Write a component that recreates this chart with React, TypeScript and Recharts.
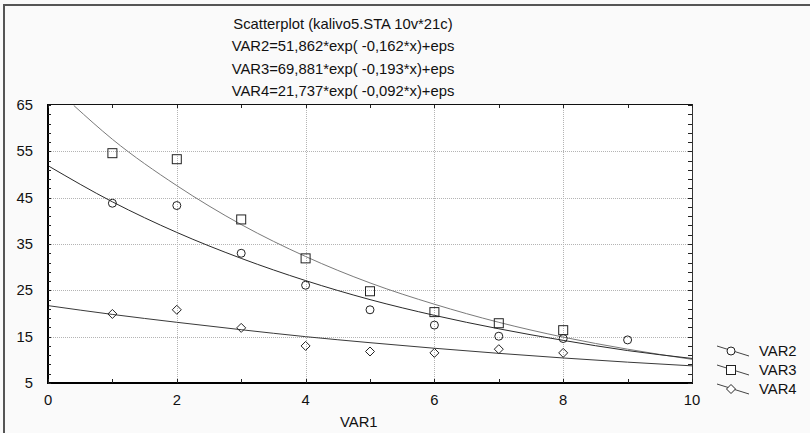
import React from "react";
import { ComposedChart, Line, Scatter, XAxis, YAxis } from "recharts";

// fitted curves (VAR3 enters the frame near x = 0.4)
const xFit = [0, 1, 2, 3, 4, 5, 6, 7, 8, 9, 10];
const var2Fit = [51.9, 44.1, 37.5, 31.9, 27.1, 23.0, 19.6, 16.7, 14.2, 12.0, 10.3];
const var4Fit = [21.7, 19.8, 18.1, 16.5, 15.0, 13.7, 12.5, 11.4, 10.4, 9.5, 8.7];
const x3Fit = [0.4, 1, 2, 3, 4, 5, 6, 7, 8, 9, 10];
const var3Fit = [64.9, 57.6, 47.6, 39.2, 32.3, 26.6, 22.0, 18.1, 14.9, 12.3, 10.1];

// observed points
const x2 = [1, 2, 3, 4, 5, 6, 7, 8, 9];
const var2Obs = [43.8, 43.3, 33.0, 26.1, 20.8, 17.5, 15.1, 14.6, 14.3];
const x3 = [1, 2, 3, 4, 5, 6, 7, 8];
const var3Obs = [54.6, 53.3, 40.3, 31.9, 24.8, 20.3, 17.9, 16.4];
const x4 = [1, 2, 3, 4, 5, 6, 7, 8];
const var4Obs = [19.9, 20.8, 16.9, 13.0, 11.8, 11.5, 12.3, 11.5];

const xTicks = [0, 1, 2, 3, 4, 5, 6, 7, 8, 9, 10];
const xLabels = [0, 2, 4, 6, 8, 10];
const yTicks = [5, 7, 9, 11, 13, 15, 17, 19, 21, 23, 25, 27, 29, 31, 33, 35, 37, 39, 41, 43, 45, 47, 49, 51, 53, 55, 57, 59, 61, 63, 65];
const yLabels = [5, 15, 25, 35, 45, 55, 65];
const gridX = [2, 4, 6, 8];
const gridY = [15, 25, 35, 45, 55];

const titleLines = [
  "Scatterplot (kalivo5.STA 10v*21c)",
  "VAR2=51,862*exp( -0,162*x)+eps",
  "VAR3=69,881*exp( -0,193*x)+eps",
  "VAR4=21,737*exp( -0,092*x)+eps",
];

const fit24 = xFit.map((x, i) => ({ x, var2: var2Fit[i], var4: var4Fit[i] }));
const fit3 = x3Fit.map((x, i) => ({ x, var3: var3Fit[i] }));
const obs2 = x2.map((x, i) => ({ x, y: var2Obs[i] }));
const obs3 = x3.map((x, i) => ({ x, y: var3Obs[i] }));
const obs4 = x4.map((x, i) => ({ x, y: var4Obs[i] }));

const FONT = "'Liberation Sans', Arial, sans-serif";
const FS = 14.8;
const INK = "#222";

// plot box (margins below put it here), used only for the frame / grid overlay
const PL = 48;
const PT = 105;
const PW = 644;
const PH = 278;
const px = (v: number) => PL + (v / 10) * PW;
const py = (v: number) => PT + ((65 - v) / 60) * PH;

const BottomTick = (props: any) => {
  const { x, y, payload } = props;
  const v = payload.value;
  if (!xLabels.includes(v)) return null;
  return (
    <text x={x} y={y + 22} textAnchor="middle" fontSize={FS} fontFamily={FONT} fill="#111">
      {v}
    </text>
  );
};

const LeftTick = (props: any) => {
  const { x, y, payload } = props;
  const v = payload.value;
  if (!yLabels.includes(v)) return null;
  return (
    <text x={x - 15} y={y + 5} textAnchor="end" fontSize={FS} fontFamily={FONT} fill="#111">
      {v}
    </text>
  );
};

const circle = (p: any) => <circle cx={p.cx} cy={p.cy} r={4} fill="none" stroke={INK} />;
const square = (p: any) => <rect x={p.cx - 4.5} y={p.cy - 4.5} width={9} height={9} fill="none" stroke={INK} />;
const diamond = (p: any) => (
  <path d={`M${p.cx},${p.cy - 4.5}L${p.cx + 4.5},${p.cy}L${p.cx},${p.cy + 4.5}L${p.cx - 4.5},${p.cy}Z`} fill="none" stroke={INK} />
);

const legendItems = [
  { name: "VAR2", mark: <circle cx={15} cy={8} r={4} fill="#fff" stroke={INK} /> },
  { name: "VAR3", mark: <rect x={10.5} y={3.5} width={9} height={9} fill="#fff" stroke={INK} /> },
  { name: "VAR4", mark: <path d="M15,3.5L19.5,8L15,12.5L10.5,8Z" fill="#fff" stroke={INK} /> },
];

const abs = (s: React.CSSProperties): React.CSSProperties => ({ position: "absolute", pointerEvents: "none", ...s });

export default function App() {
  return (
    <div style={{ position: "absolute", left: 0, top: 0, width: 810, height: 433, background: "#fafafa", overflow: "hidden", zIndex: 0 }}>
      <div style={abs({ zIndex: -1, left: PL, top: PT, width: PW, height: PH, background: "#fff" })} />
      {gridX.map((v) => (
        <div key={`gx${v}`} style={abs({ zIndex: -1, left: px(v), top: PT, height: PH, borderLeft: "1px dotted #b4b4b4" })} />
      ))}
      {gridY.map((v) => (
        <div key={`gy${v}`} style={abs({ zIndex: -1, left: PL, top: py(v), width: PW, borderTop: "1px dotted #b4b4b4" })} />
      ))}
      <div style={abs({ left: 3, top: 4, right: 0, bottom: 0, borderTop: "2px solid #555", borderLeft: "2px solid #555" })} />
      <div style={abs({ left: 143, top: 13, width: 400, textAlign: "center", fontFamily: FONT, fontSize: FS, lineHeight: "22.3px", color: "#111" })}>
        {titleLines.map((t) => (
          <div key={t}>{t}</div>
        ))}
      </div>
      <ComposedChart width={810} height={433} margin={{ top: 104, right: 117, bottom: 0, left: 0 }}>
        <XAxis
          xAxisId="b"
          type="number"
          dataKey="x"
          domain={[0, 10]}
          ticks={xTicks}
          interval={0}
          height={50}
          tickSize={0}
          tickMargin={0}
          axisLine={false}
          tickLine={false}
          tick={<BottomTick />}
        />
        <XAxis xAxisId="t" orientation="top" type="number" domain={[0, 10]} height={1} axisLine={false} tickLine={false} tick={false} />
        <YAxis
          yAxisId="l"
          type="number"
          domain={[5, 65]}
          ticks={yTicks}
          interval={0}
          width={48}
          tickSize={0}
          tickMargin={0}
          axisLine={false}
          tickLine={false}
          tick={<LeftTick />}
        />
        <YAxis yAxisId="r" orientation="right" type="number" domain={[5, 65]} width={1} axisLine={false} tickLine={false} tick={false} />
        <Line data={fit3} xAxisId="b" yAxisId="l" dataKey="var3" type="monotone" stroke="#7a7a7a" strokeWidth={1} dot={false} isAnimationActive={false} />
        <Line data={fit24} xAxisId="b" yAxisId="l" dataKey="var2" type="monotone" stroke="#2a2a2a" strokeWidth={1} dot={false} isAnimationActive={false} />
        <Line data={fit24} xAxisId="b" yAxisId="l" dataKey="var4" type="monotone" stroke="#3a3a3a" strokeWidth={1} dot={false} isAnimationActive={false} />
        <Scatter data={obs2} xAxisId="b" yAxisId="l" dataKey="y" shape={circle} isAnimationActive={false} />
        <Scatter data={obs3} xAxisId="b" yAxisId="l" dataKey="y" shape={square} isAnimationActive={false} />
        <Scatter data={obs4} xAxisId="b" yAxisId="l" dataKey="y" shape={diamond} isAnimationActive={false} />
      </ComposedChart>
      {/* plot frame and inward tick marks */}
      <div style={abs({ left: PL - 1, top: PT - 1, width: PW + 2, height: PH + 2, boxSizing: "border-box", borderTop: "1px solid #111", borderRight: "1px solid #333", borderLeft: "2px solid #000", borderBottom: "2px solid #000" })} />
      {xTicks.map((v) => (
        <React.Fragment key={`xt${v}`}>
          <div style={abs({ left: px(v), top: PT, height: 3, borderLeft: `1px solid ${INK}` })} />
          <div style={abs({ left: px(v), top: PT + PH - 4, height: 4, borderLeft: `1px solid ${INK}` })} />
        </React.Fragment>
      ))}
      {yTicks.map((v) => (
        <React.Fragment key={`yt${v}`}>
          <div style={abs({ left: PL, top: py(v), width: 3, borderTop: `1px solid ${INK}` })} />
          <div style={abs({ left: PL + PW - 4, top: py(v), width: 4, borderTop: `1px solid ${INK}` })} />
        </React.Fragment>
      ))}
      <div style={abs({ left: 340, top: 414, fontFamily: FONT, fontSize: FS, color: "#111" })}>VAR1</div>
      <div style={abs({ left: 716, top: 341, fontFamily: FONT, fontSize: FS, color: "#111" })}>
        {legendItems.map((it) => (
          <div key={it.name} style={{ display: "flex", alignItems: "center", height: 19 }}>
            <svg width={34} height={16} style={{ marginRight: 9 }}>
              <line x1={1} y1={3} x2={33} y2={13} stroke="#444" />
              {it.mark}
            </svg>
            <span>{it.name}</span>
          </div>
        ))}
      </div>
    </div>
  );
}
